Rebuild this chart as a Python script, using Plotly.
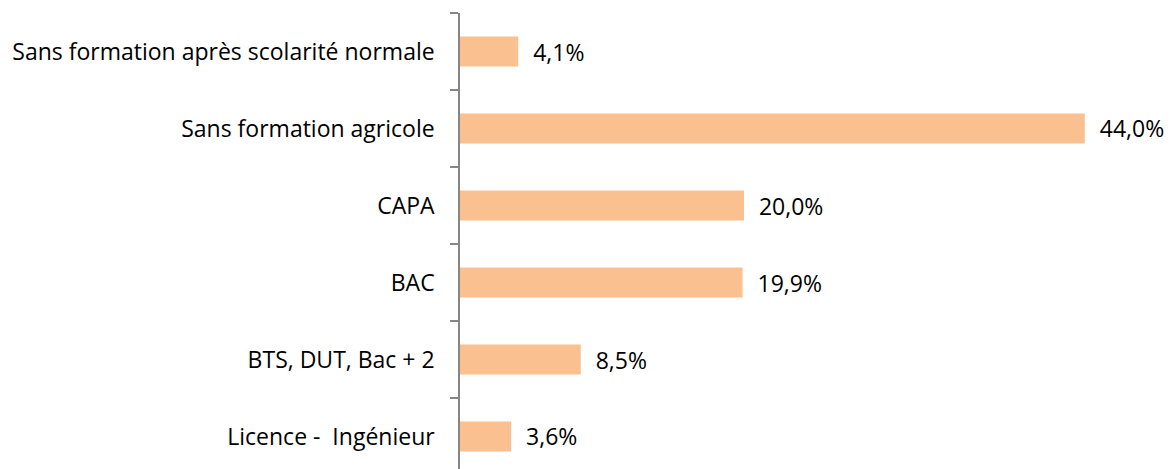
import plotly.graph_objects as go

categories = [
    "Sans formation après scolarité normale",
    "Sans formation agricole",
    "CAPA",
    "BAC",
    "BTS, DUT, Bac + 2",
    "Licence -  Ingénieur",
]
values = [4.1, 44.0, 20.0, 19.9, 8.5, 3.6]
value_labels = ["4,1%", "44,0%", "20,0%", "19,9%", "8,5%", "3,6%"]

pos = list(range(len(categories)))
boundaries = [i - 0.5 for i in range(len(categories))]

FONT = "Open Sans"

fig = go.Figure(
    go.Bar(
        x=values,
        y=pos,
        orientation="h",
        width=0.39,
        marker=dict(color="#FAC090", line=dict(width=0)),
        text=["  " + t for t in value_labels],
        textposition="outside",
        constraintext="none",
        textfont=dict(size=23, color="#000000", family=FONT),
        cliponaxis=False,
    )
)

# The page body has an 8px default margin, so the figure is sized to fit.
fig.update_layout(
    width=1166,
    height=461,
    margin=dict(l=452, r=4, t=5, b=0),
    plot_bgcolor="white",
    paper_bgcolor="white",
    showlegend=False,
    font=dict(family=FONT, size=23, color="#000000"),
)

fig.update_xaxes(
    range=[0, 50],
    showgrid=False,
    zeroline=False,
    showticklabels=False,
    ticks="",
    showline=False,
)

fig.update_yaxes(
    range=[-0.5 + 456 / 77, -0.5],
    tickmode="array",
    tickvals=pos,
    ticktext=categories,
    ticks="",
    ticklabelstandoff=19,
    tickfont=dict(size=23, family=FONT, color="#000000"),
    showgrid=False,
    zeroline=False,
    showline=True,
    linecolor="#868686",
    linewidth=1.5,
    minor=dict(
        tickmode="array",
        tickvals=boundaries,
        ticks="outside",
        ticklen=8,
        tickcolor="#868686",
        tickwidth=1.5,
        showgrid=False,
    ),
)

fig.write_html("out.html")
